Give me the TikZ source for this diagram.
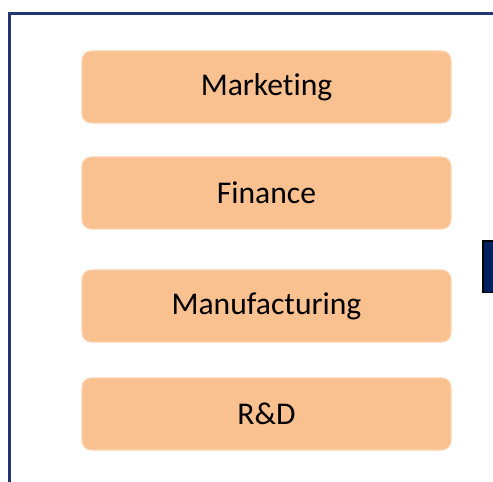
\documentclass[tikz,border=0pt]{standalone}
\usepackage{fontspec}
\setmainfont[Ligatures={NoCommon,NoRare}]{Carlito}
\definecolor{framenavy}{RGB}{35,55,110}
\definecolor{tabnavy}{RGB}{0,32,96}
\definecolor{deptfill}{RGB}{249,192,144}
\definecolor{deptedge}{RGB}{251,211,176}
\tikzset{
	dept/.style={draw=deptedge, line width=0.8pt, fill=deptfill, rounded corners=7pt,
		minimum width=276.75pt, minimum height=54pt, inner sep=0pt,
		font=\fontsize{23.7}{28}\selectfont},
}
\begin{document}
\begin{tikzpicture}[x=0.75pt, y=0.75pt]
		\useasboundingbox (0,0) rectangle (493,482);
		\clip (0,0) rectangle (493,482);
		% outer frame, open at the right and bottom
		\coordinate (FB) at (9.5,-10); \coordinate (FC) at (9.5,468.5); \coordinate (FR) at (510,468.5);
		\draw[framenavy, line width=1.6pt] (FB) -- (FC) -- (FR);
		% small tab on the right edge
		\draw[black, line width=1.2pt, fill=tabnavy] (482.8,189.5) rectangle (510,241);
		% the departments
		\node[dept] (mkt) at (266.5,395) {Marketing};
		\node[dept] (fin) at (266.5,289) {Finance};
		\node[dept] (mfg) at (266.5,176) {Manufacturing};
		\node[dept] (rnd) at (266.5,68) {R\&D};
	\end{tikzpicture}
\end{document}
